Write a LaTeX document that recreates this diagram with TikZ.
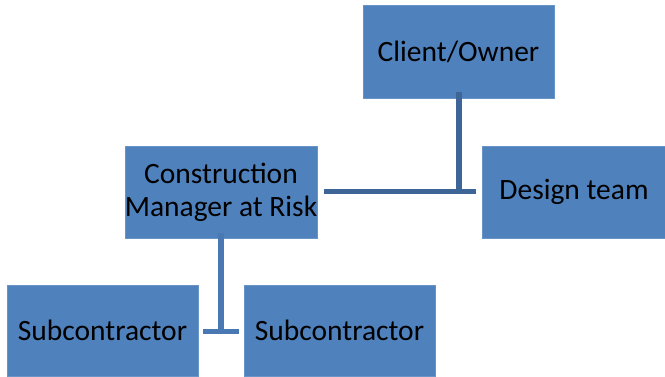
\documentclass[tikz,border=0pt]{standalone}
\usepackage{fontspec}
\setmainfont{Carlito}
\definecolor{boxblue}{HTML}{4F81BD}
\definecolor{lineA}{HTML}{3D6598}
\definecolor{lineB}{HTML}{4A78B2}
\begin{document}
\begin{tikzpicture}[x=1pt,y=-1pt,
  box/.style={fill=boxblue,draw=boxblue!85!white,line width=0.6pt,inner sep=0pt,align=center,
    font=\fontsize{29.5}{33}\selectfont},
  conA/.style={draw=lineA,line width=5.5pt},
  conB/.style={draw=lineB,line width=5.5pt}]
\useasboundingbox (0,0) rectangle (665,376);
\node[box,minimum width=191pt,minimum height=93pt] (client) at (458.5,51.5) {Client/Owner};
\node[box,minimum width=190pt,minimum height=92pt] (cm) at (221,192) {Construction\\Manager at Risk};
\node[box,minimum width=184pt,minimum height=92pt] (design) at (574,192) {Design team};
\node[box,minimum width=191pt,minimum height=91pt] (subl) at (102.5,330.5) {Subcontractor};
\node[box,minimum width=191pt,minimum height=91pt] (subr) at (339.5,330.5) {Subcontractor};
\coordinate (j1) at (459,191.5);
\coordinate (j2) at (221,331.5);
\draw[conA] ([xshift=6pt]cm.east |- j1) -- ([xshift=-6pt]design.west |- j1);
\draw[conA] ([yshift=6pt]client.south -| j1) -- (j1);
\draw[conB] ([yshift=5pt]cm.south -| j2) -- (j2);
\draw[conB] ([xshift=5pt]subl.east |- j2) -- ([xshift=-5pt]subr.west |- j2);
\end{tikzpicture}
\end{document}
